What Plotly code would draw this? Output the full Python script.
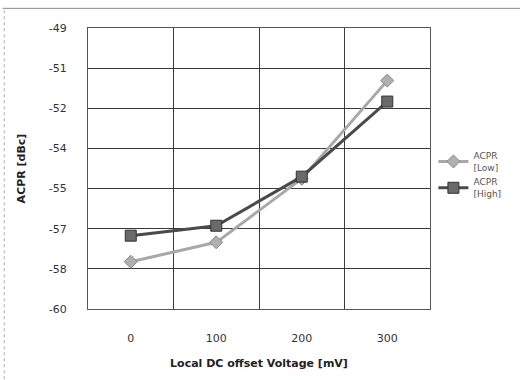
import plotly.graph_objects as go

categories = ["0", "100", "200", "300"]
acpr_low = [-58.15, -57.39, -54.9, -51.06]
acpr_high = [-57.13, -56.74, -54.82, -51.88]
y_min, y_max, n_div = -60, -49, 7
y_tick_labels = ["-60", "-58", "-57", "-55", "-54", "-52", "-51", "-49"]

y_tick_vals = [y_min + i * (y_max - y_min) / n_div for i in range(n_div + 1)]

fig = go.Figure()
fig.add_trace(go.Scatter(
    x=categories, y=acpr_low, name="ACPR<br>[Low]", mode="lines+markers",
    line=dict(color="#a8a8a8", width=3),
    marker=dict(symbol="diamond", size=10, color="#b0b0b0", line=dict(color="#888888", width=1)),
))
fig.add_trace(go.Scatter(
    x=categories, y=acpr_high, name="ACPR<br>[High]", mode="lines+markers",
    line=dict(color="#4a4a4a", width=3),
    marker=dict(symbol="square", size=11, color="#6a6a6a", line=dict(color="#333333", width=1)),
))

fig.update_layout(
    width=520, height=380,
    margin=dict(l=88, r=90, t=28, b=71),
    paper_bgcolor="white", plot_bgcolor="white",
    font=dict(family="DejaVu Sans", size=11, color="#222222"),
    showlegend=True,
    legend=dict(x=1.01, y=0.59, xanchor="left", yanchor="top",
                font=dict(size=9, color="#555555"), tracegroupgap=12,
                bgcolor="rgba(0,0,0,0)"),
    xaxis=dict(
        type="category", range=[-0.5, 3.5], tickson="boundaries",
        showgrid=True, gridcolor="#3a3a3a", gridwidth=1,
        showline=True, linecolor="#555555", mirror=True,
        ticks="", ticklabelstandoff=19,
        tickfont=dict(size=11, color="#333333"),
        title=dict(text="<b>Local DC offset Voltage [mV]</b>", font=dict(size=11, color="#222222"), standoff=15),
        zeroline=False,
    ),
    yaxis=dict(
        range=[y_min, y_max], tickvals=y_tick_vals, ticktext=y_tick_labels,
        showgrid=True, gridcolor="#3a3a3a", gridwidth=1,
        showline=True, linecolor="#555555", mirror=True,
        ticks="", ticklabelstandoff=18,
        tickfont=dict(size=11, color="#333333"),
        title=dict(text="<b>ACPR [dBc]</b>", font=dict(size=11, color="#222222"), standoff=20),
        zeroline=False,
    ),
)

fig.add_shape(type="line", xref="paper", yref="paper", x0=-0.25, x1=1.27, y0=1.07, y1=1.07,
              line=dict(color="#888888", width=1))
fig.add_shape(type="line", xref="paper", yref="paper", x0=-0.245, x1=-0.245, y0=-0.25, y1=1.07,
              line=dict(color="#aaaaaa", width=1, dash="dot"))

fig.write_html("out.html")
